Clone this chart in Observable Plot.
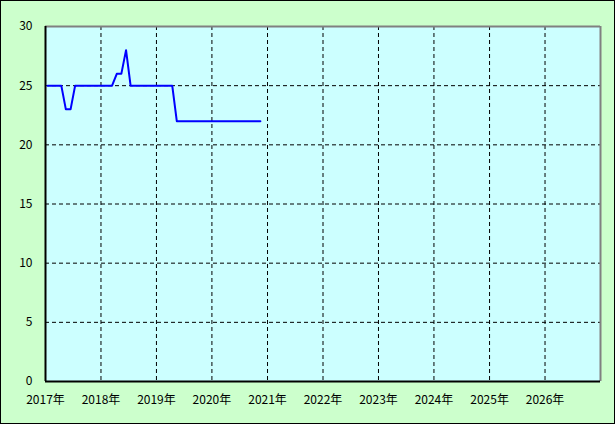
<!DOCTYPE html>
<html>
<head>
<meta charset="utf-8">
<script src="https://cdn.jsdelivr.net/npm/d3@7"></script>
<script src="https://cdn.jsdelivr.net/npm/@observablehq/plot@0.6"></script>
<style>
  html, body { margin: 0; padding: 0; background: #fff; }
  #chart { width: 615px; height: 424px; box-sizing: border-box; border: 1px solid #000; background: #CCFFCC; overflow: hidden; }
  #chart svg { display: block; background: transparent; }
</style>
</head>
<body>
<div id="chart"></div>
<script>
// Monthly values (mid-month points), Jan 2017 .. Nov 2020
const months = [
  "2017-01","2017-02","2017-03","2017-04","2017-05","2017-06","2017-07","2017-08","2017-09","2017-10","2017-11","2017-12",
  "2018-01","2018-02","2018-03","2018-04","2018-05","2018-06","2018-07","2018-08","2018-09","2018-10","2018-11","2018-12",
  "2019-01","2019-02","2019-03","2019-04","2019-05","2019-06","2019-07","2019-08","2019-09","2019-10","2019-11","2019-12",
  "2020-01","2020-02","2020-03","2020-04","2020-05","2020-06","2020-07","2020-08","2020-09","2020-10","2020-11"
];
const values = [
  25,25,25,25,23,23,25,25,25,25,25,25,
  25,25,25,26,26,28,25,25,25,25,25,25,
  25,25,25,25,22,22,22,22,22,22,22,22,
  22,22,22,22,22,22,22,22,22,22,22
];
const yearTicks = [2017,2018,2019,2020,2021,2022,2023,2024,2025,2026];
const yTicks = [0,5,10,15,20,25,30];
const xStartYear = 2017, xEndYear = 2027;
const yMin = 0, yMax = 30;

const yr = y => new Date(Date.UTC(y, 0, 1));
const data = months.map((m, i) => {
  const [y, mo] = m.split("-").map(Number);
  return {date: new Date(Date.UTC(y, mo - 1, 15)), value: values[i]};
});
const gridYears = yearTicks.filter(y => y !== xStartYear).map(yr);
const gridY = yTicks.filter(v => v !== yMin && v !== yMax);

const chart = Plot.plot({
  width: 613,
  height: 422,
  marginLeft: 44,
  marginRight: 14,
  marginTop: 25,
  marginBottom: 42,
  style: {fontFamily: "'Noto Sans CJK JP', sans-serif", fontSize: "12px", color: "#000", background: "transparent"},
  x: {type: "utc", domain: [yr(xStartYear), yr(xEndYear)]},
  y: {domain: [yMin, yMax]},
  marks: [
    Plot.frame({fill: "#CCFFFF", stroke: "none"}),
    Plot.ruleX(gridYears, {stroke: "#000", strokeDasharray: "4,3", strokeWidth: 1}),
    Plot.ruleY(gridY, {stroke: "#000", strokeDasharray: "4,3", strokeWidth: 1}),
    Plot.ruleY([yMax], {stroke: "#808080", strokeWidth: 2}),
    Plot.ruleX([yr(xEndYear)], {stroke: "#808080", strokeWidth: 2}),
    Plot.ruleX([yr(xStartYear)], {stroke: "#000", strokeWidth: 2}),
    Plot.ruleY([yMin], {stroke: "#000", strokeWidth: 2}),
    Plot.lineY(data, {x: "date", y: "value", stroke: "#0000FF", strokeWidth: 2}),
    Plot.axisX(yearTicks.map(yr), {tickSize: 0, tickPadding: 14, tickFormat: d => `${d.getUTCFullYear()}年`, label: null}),
    Plot.axisY(yTicks, {tickSize: 0, tickPadding: 13, label: null})
  ]
});
document.getElementById("chart").appendChild(chart);
</script>
</body>
</html>
